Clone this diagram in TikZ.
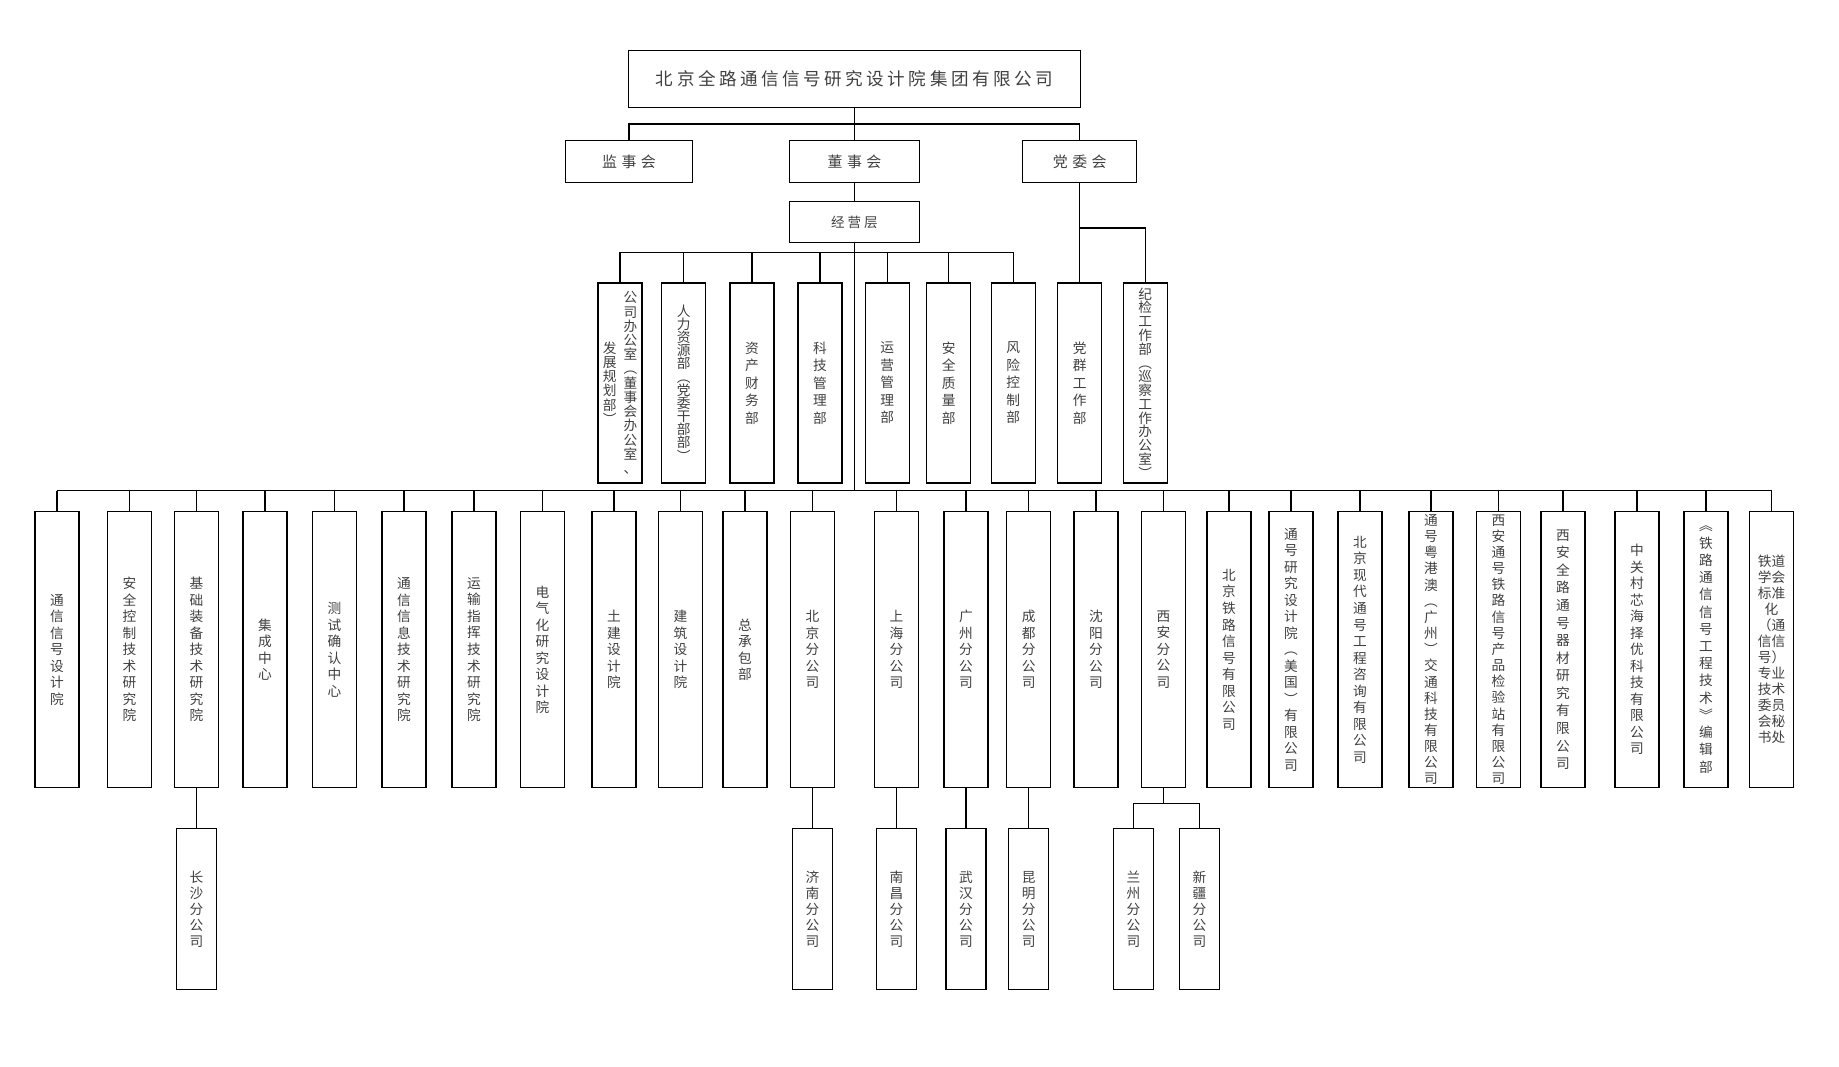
\documentclass[tikz,border=0pt]{standalone}
\usepackage{fontspec}
\setmainfont{Noto Sans CJK SC}
\usetikzlibrary{positioning}

\makeatletter
\newcommand\vt[2][9.4pt]{$\vcenter{\baselineskip=#1\lineskiplimit=-\maxdimen\lineskip=0pt\vt@loop#2\@nil}$}
\def\vt@loop#1#2\@nil{\hbox to 1em{\hss#1\hss}\ifx\relax#2\relax\expandafter\@gobble\else\expandafter\@firstofone\fi{\vt@loop#2\@nil}}
\makeatother

\begin{document}
\begin{tikzpicture}[x=0.02cm, y=-0.02cm,
    every node/.style={text=black!75},
    box/.style={draw=black, line width=0.75pt, inner sep=0pt},
    titlebox/.style={box, minimum width=9.03cm, minimum height=1.14cm, font=\fontsize{10}{12}\selectfont\addfontfeature{LetterSpace=20}},
    headbox/.style={box, minimum height=0.83cm, font=\fontsize{8.5}{10}\selectfont\addfontfeature{LetterSpace=30}},
    deptbox/.style={box, anchor=north, minimum width=0.88cm, minimum height=4cm, font=\fontsize{7.8}{9}\selectfont},
    unitbox/.style={box, anchor=north, minimum width=0.88cm, minimum height=5.52cm, font=\fontsize{7.8}{9}\selectfont},
    subbox/.style={box, anchor=north, minimum width=0.8cm, minimum height=3.22cm, font=\fontsize{7.8}{9}\selectfont},
    link/.style={line width=0.75pt}]
  \useasboundingbox (0,0) rectangle (1839,1066);

  \node[titlebox] (top) at (854.5,79.2) {北京全路通信信号研究设计院集团有限公司};
  \node[headbox, minimum width=2.53cm] (jsh) at (629,161.5) {监事会};
  \node[headbox, minimum width=2.59cm] (dsh) at (854.5,161.5) {董事会};
  \node[headbox, minimum width=2.28cm] (dwh) at (1079.8,161.5) {党委会};
  \node[headbox, minimum width=2.59cm, font=\fontsize{7.7}{9}\selectfont\addfontfeature{LetterSpace=22}] (jyc) at (854.5,222) {经营层};

  \node[deptbox] (d1) at (620,282.3) {\vt[8.1pt]{发展规划部︶}\hspace{4pt}\vt[8.1pt]{公司办公室︵董事会办公室、}};
  \node[deptbox] (d2) at (683.6,282.3) {\vt[7.5pt]{人力资源部︵党委干部部︶}};
  \node[deptbox] (d3) at (752,282.3) {\vt[10pt]{资产财务部}};
  \node[deptbox] (d4) at (820,282.3) {\vt[10pt]{科技管理部}};
  \node[deptbox] (d5) at (887.2,282.3) {\vt[10pt]{运营管理部}};
  \node[deptbox] (d6) at (948.8,282.3) {\vt[10pt]{安全质量部}};
  \node[deptbox] (d7) at (1013.3,282.3) {\vt[10pt]{风险控制部}};
  \node[deptbox] (d8) at (1079.8,282.3) {\vt[10pt]{党群工作部}};
  \node[deptbox] (d9) at (1145.3,282.3) {\vt[7.85pt]{纪检工作部︵巡察工作办公室︶}};

  \node[unitbox] (b1) at (57,511) {\vt{通信信号设计院}};
  \node[unitbox] (b2) at (129.5,511) {\vt{安全控制技术研究院}};
  \node[unitbox] (b3) at (196.5,511) {\vt{基础装备技术研究院}};
  \node[unitbox] (b4) at (265,511) {\vt{集成中心}};
  \node[unitbox] (b5) at (334.5,511) {\vt{测试确认中心}};
  \node[unitbox] (b6) at (404,511) {\vt{通信信息技术研究院}};
  \node[unitbox] (b7) at (474,511) {\vt{运输指挥技术研究院}};
  \node[unitbox] (b8) at (542.5,511) {\vt{电气化研究设计院}};
  \node[unitbox] (b9) at (614,511) {\vt{土建设计院}};
  \node[unitbox] (b10) at (680.5,511) {\vt{建筑设计院}};
  \node[unitbox] (b11) at (745,511) {\vt{总承包部}};
  \node[unitbox] (b12) at (812.5,511) {\vt{北京分公司}};
  \node[unitbox] (b13) at (896.5,511) {\vt{上海分公司}};
  \node[unitbox] (b14) at (966,511) {\vt{广州分公司}};
  \node[unitbox] (b15) at (1028.6,511) {\vt{成都分公司}};
  \node[unitbox] (b16) at (1096,511) {\vt{沈阳分公司}};
  \node[unitbox] (b17) at (1163.5,511) {\vt{西安分公司}};
  \node[unitbox] (b18) at (1229,511) {\vt{北京铁路信号有限公司}};
  \node[unitbox] (b19) at (1291,511) {\vt{通号研究设计院︵美国︶有限公司}};
  \node[unitbox] (b20) at (1360,511) {\vt{北京现代通号工程咨询有限公司}};
  \node[unitbox] (b21) at (1431,511) {\vt[9.2pt]{通号粤港澳︵广州︶交通科技有限公司}};
  \node[unitbox] (b22) at (1498.5,511) {\vt[9.2pt]{西安通号铁路信号产品检验站有限公司}};
  \node[unitbox] (b23) at (1563,511) {\vt[10pt]{西安全路通号器材研究有限公司}};
  \node[unitbox] (b24) at (1637,511) {\vt{中关村芯海择优科技有限公司}};
  \node[unitbox] (b25) at (1706,511) {\vt[9.8pt]{︽铁路通信信号工程技术︾编辑部}};
  \node[unitbox, align=center, font=\fontsize{7.8}{9.1}\selectfont] (b26) at (1771.5,511)
    {铁道\\学会\\标准\\化\\（通\\信信\\号）\\专业\\技术\\委员\\会秘\\书处};

  \node[subbox] (c1) at (196.5,828) {\vt[9.1pt]{长沙分公司}};
  \node[subbox] (c2) at (812.5,828) {\vt[9.1pt]{济南分公司}};
  \node[subbox] (c3) at (896.5,828) {\vt[9.1pt]{南昌分公司}};
  \node[subbox] (c4) at (966,828) {\vt[9.1pt]{武汉分公司}};
  \node[subbox] (c5) at (1028.6,828) {\vt[9.1pt]{昆明分公司}};
  \node[subbox] (c6) at (1133.5,828) {\vt[9.1pt]{兰州分公司}};
  \node[subbox] (c7) at (1199.5,828) {\vt[9.1pt]{新疆分公司}};

  \coordinate (jj) at (1079.8,228);
  \coordinate (bus) at (854.5,490.7);

  \draw[link] (top.south) -- (dsh.north);
  \draw[link] (jsh.north) -- ++(0,-16) -| (dwh.north);
  \draw[link] (dsh.south) -- (jyc.north);
  \draw[link] (jyc.south) -- (jyc.south |- bus);
  \draw[link] (d1.north) -- ++(0,-30) -| (d7.north);
  \foreach \i in {2,...,6} \draw[link] (d\i.north) -- ++(0,-30);
  \draw[link] (dwh.south) -- (d8.north);
  \draw[link] (d9.north) |- (jj);

  \draw[link] (b1.north |- bus) -- (b26.north |- bus);
  \foreach \i in {1,...,26} \draw[link] (b\i.north) -- (b\i.north |- bus);

  \draw[link] (b3.south) -- (c1.north);
  \draw[link] (b12.south) -- (c2.north);
  \draw[link] (b13.south) -- (c3.north);
  \draw[link] (b14.south) -- (c4.north);
  \draw[link] (b15.south) -- (c5.north);
  \draw[link] (b17.south) -- ++(0,15) -| (c6.north);
  \draw[link] (b17.south) ++(0,15) -| (c7.north);
\end{tikzpicture}
\end{document}
